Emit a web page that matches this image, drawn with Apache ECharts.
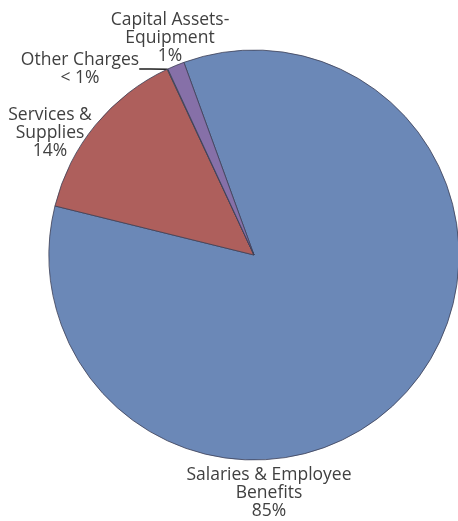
<!DOCTYPE html>
<html>
<head>
<meta charset="utf-8">
<style>
html,body{margin:0;padding:0;background:#fff;}
#chart{width:458px;height:521px;}
</style>
<script src="https://cdn.jsdelivr.net/npm/echarts@6/dist/echarts.min.js"></script>
</head>
<body>
<div id="chart"></div>
<script>
const categories = ['Salaries & Employee\nBenefits', 'Services &\nSupplies', 'Other Charges', 'Capital Assets-\nEquipment'];
const values = [84.4, 14.2, 0.05, 1.35];
const pctLabels = ['85%', '14%', '< 1%', '1%'];
const sliceColors = ['#6b88b7', '#ae5f5c', '#9bb46a', '#8670a8'];
// label block centres (layout only)
const labelPos = [[269, 493], [50, 133], [80, 69], [170, 38]];

const chart = echarts.init(document.getElementById('chart'), null, {renderer: 'canvas'});
chart.setOption({
  backgroundColor: '#ffffff',
  animation: false,
  series: [{
    type: 'pie',
    center: [254, 255],
    radius: 205,
    startAngle: 110,
    clockwise: true,
    avoidLabelOverlap: false,
    data: categories.map((c, i) => ({
      name: c,
      value: values[i],
      itemStyle: {color: sliceColors[i]},
      labelLine: {show: i === 2}
    })),
    itemStyle: {borderColor: '#3c3f55', borderWidth: 0.8},
    label: {
      show: true,
      position: 'outside',
      formatter: p => p.name + '\n' + pctLabels[p.dataIndex],
      fontFamily: 'Open Sans',
      fontSize: 17.5,
      lineHeight: 18,
      color: '#404040',
      align: 'center'
    },
    labelLine: {
      show: false,
      length: 10,
      length2: 10,
      smooth: 0.3,
      lineStyle: {color: '#1e1e1e', width: 1.5}
    },
    labelLayout: params => ({
      x: labelPos[params.dataIndex][0],
      y: labelPos[params.dataIndex][1],
      align: 'center',
      verticalAlign: 'middle'
    }),
    emphasis: {disabled: true}
  }]
});
</script>
</body>
</html>
